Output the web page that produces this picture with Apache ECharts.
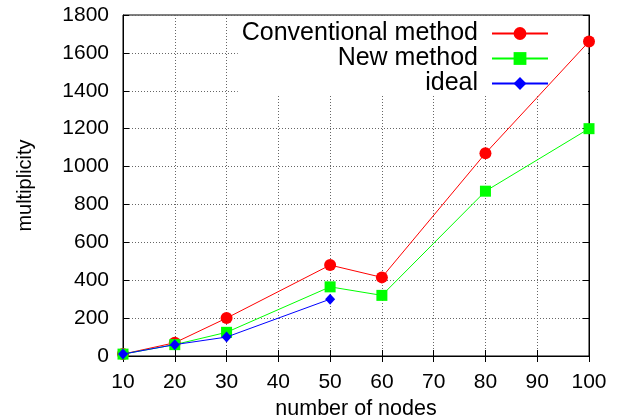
<!DOCTYPE html>
<html>
<head>
<meta charset="utf-8">
<script src="https://cdn.jsdelivr.net/npm/echarts@6/dist/echarts.min.js"></script>
<style>html,body{margin:0;padding:0;background:#fff}#c{width:619px;height:420px}</style>
</head>
<body>
<div id="c"></div>
<script>
const nodes = [10, 20, 30, 50, 60, 80, 100];
const conventional = [10, 70, 200, 480, 415, 1070, 1660];
const newMethod = [10, 60, 125, 365, 320, 870, 1200];
const idealNodes = [10, 20, 30, 50];
const ideal = [10, 60, 100, 300];
const seriesNames = ['Conventional method', 'New method', 'ideal'];
const xTicks = [10, 100, 10];
const yTicks = [0, 1800, 200];

const pair = (xs, ys) => xs.map((x, i) => [x, ys[i]]);
const FONT = 'Liberation Sans, Arial, sans-serif';
const chart = echarts.init(document.getElementById('c'), null, {renderer: 'canvas'});
const splitStyle = {show: true, lineStyle: {color: '#666', type: [1, 2], width: 1}};
chart.setOption({
  animation: false,
  backgroundColor: '#fff',
  grid: {left: 123, right: 30, top: 15, bottom: 64, containLabel: false, outerBoundsMode: 'none',
         show: true, borderColor: '#000', borderWidth: 1, backgroundColor: 'transparent'},
  legend: {
    orient: 'vertical', right: 31, top: 16, align: 'right',
    itemWidth: 56, itemHeight: 16, itemGap: 0,
    padding: [5, 39, 0, 4],
    backgroundColor: '#fff',
    z: 1,
    textStyle: {fontFamily: FONT, fontSize: 25, color: '#000', lineHeight: 22, padding: [0, 9, 0, 0]},
    data: seriesNames
  },
  xAxis: [{
    type: 'value', min: xTicks[0], max: xTicks[1], interval: xTicks[2],
    name: 'number of nodes', nameLocation: 'middle', nameGap: 41,
    nameTextStyle: {fontFamily: FONT, fontSize: 21.5, color: '#000'},
    axisLine: {show: true, lineStyle: {color: '#000'}},
    axisTick: {inside: true, length: 6, lineStyle: {color: '#000'}},
    axisLabel: {fontFamily: FONT, fontSize: 21, color: '#000', margin: 16, formatter: v => String(v)},
    splitLine: splitStyle, z: 0
  }, {
    type: 'value', position: 'top', min: xTicks[0], max: xTicks[1], interval: xTicks[2],
    axisLine: {show: true, lineStyle: {color: '#000'}},
    axisTick: {inside: true, length: 6, lineStyle: {color: '#000'}},
    axisLabel: {show: false}, splitLine: {show: false}, z: 0
  }],
  yAxis: [{
    type: 'value', min: yTicks[0], max: yTicks[1], interval: yTicks[2],
    name: 'multiplicity', nameLocation: 'middle', nameGap: 88, nameRotate: 90,
    nameTextStyle: {fontFamily: FONT, fontSize: 20, color: '#000'},
    axisLine: {show: true, lineStyle: {color: '#000'}},
    axisTick: {show: true, inside: true, length: 6, lineStyle: {color: '#000'}},
    axisLabel: {fontFamily: FONT, fontSize: 21, color: '#000', margin: 14, formatter: v => String(v)},
    splitLine: splitStyle, z: 0
  }, {
    type: 'value', position: 'right', min: yTicks[0], max: yTicks[1], interval: yTicks[2],
    axisLine: {show: true, lineStyle: {color: '#000'}},
    axisTick: {show: true, inside: true, length: 6, lineStyle: {color: '#000'}},
    axisLabel: {show: false}, splitLine: {show: false}, z: 0
  }],
  series: [{
    name: seriesNames[0], type: 'line', data: pair(nodes, conventional), z: 3,
    symbol: 'circle', symbolSize: 12, itemStyle: {color: '#ff0000'},
    lineStyle: {color: '#ff0000', width: 1}
  }, {
    name: seriesNames[1], type: 'line', data: pair(nodes, newMethod), z: 4,
    symbol: 'rect', symbolSize: 11, itemStyle: {color: '#00ff00'},
    lineStyle: {color: '#00ff00', width: 1}
  }, {
    name: seriesNames[2], type: 'line', data: pair(idealNodes, ideal), z: 5,
    symbol: 'diamond', symbolSize: [10, 11], itemStyle: {color: '#0000ff'},
    lineStyle: {color: '#0000ff', width: 1}
  }]
});
</script>
</body>
</html>
